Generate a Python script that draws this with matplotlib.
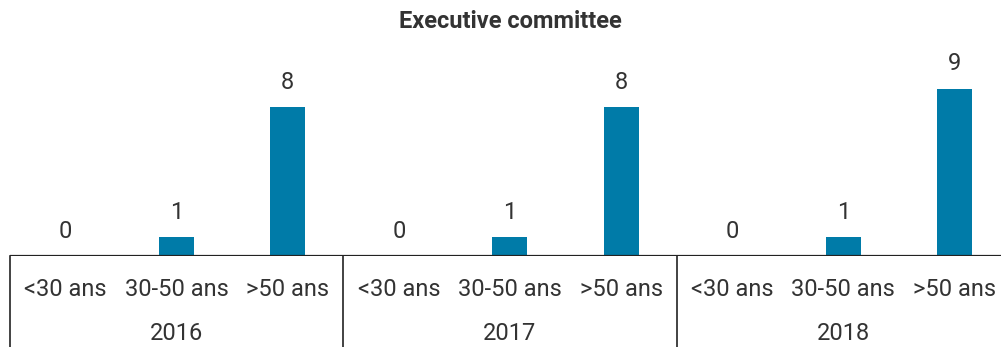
import numpy as np
import matplotlib.pyplot as plt

plt.rcParams['font.family'] = ['Roboto', 'DejaVu Sans']

years = ['2016', '2017', '2018']
age_groups = ['<30 ans', '30-50 ans', '>50 ans']
members = [
    [0, 1, 8],   # 2016
    [0, 1, 8],   # 2017
    [0, 1, 9],   # 2018
]

bar_color = '#007ba8'
text_color = '#333333'
line_color = '#222222'

W, H = 1001, 347
fig = plt.figure(figsize=(W / 100, H / 100), dpi=100)
# axes runs a little past the right edge so the last group is as wide as the others
ax = fig.add_axes([10 / W, 91 / H, 1000 / W, 256 / H])

values = np.array(members).ravel()
x = np.arange(len(values))
unit_px = 18.6
ax.bar(x, values, width=0.315, color=bar_color, zorder=2)
ax.set_xlim(-0.5, len(values) - 0.5)
ax.set_ylim(0, 256 / unit_px)

for xi, v in zip(x, values):
    ax.annotate(str(v), (xi, v), xytext=(0, 18), textcoords='offset points',
                ha='center', va='center', fontsize=17, color=text_color)

xt = ax.get_xaxis_transform()
for i, year in enumerate(years):
    for j, grp in enumerate(age_groups):
        ax.text(i * 3 + j, -33 / 256, grp, transform=xt, ha='center', va='center',
                fontsize=17, color=text_color)
    ax.text(i * 3 + 1, -77 / 256, year, transform=xt, ha='center', va='center',
            fontsize=17, color=text_color)

# group separators below the baseline
for b in np.arange(0, len(values) + 1, 3) - 0.5:
    ax.plot([b, b], [0, -0.4], transform=xt, color=line_color, lw=1.2, clip_on=False)
ax.axhline(0, color=line_color, lw=1.6, zorder=3)

ax.axis('off')
fig.text(510 / W, 1 - 22 / H, 'Executive committee', ha='center', va='center',
         fontsize=17, fontweight='bold', color=text_color)

fig.savefig('out.png', dpi=100)
